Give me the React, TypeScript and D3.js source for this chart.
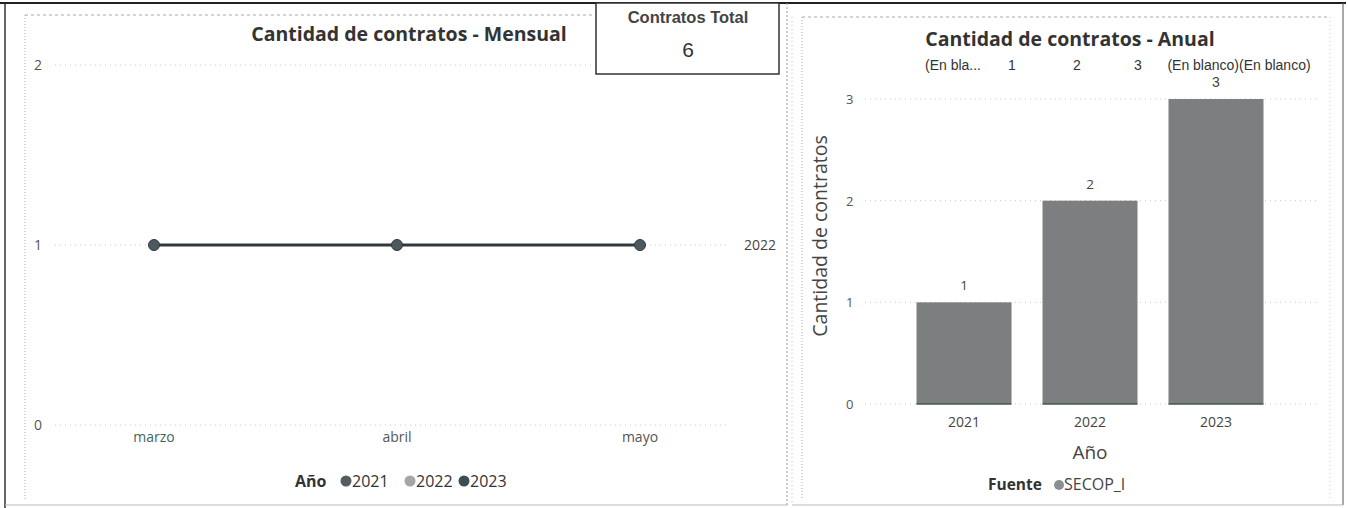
import React from 'react';
import * as d3 from 'd3';

const months = ['marzo', 'abril', 'mayo'];
const monthly2022 = [1, 1, 1];
const monthlyTicks = [0, 1, 2];
const legendYears = ['2021', '2022', '2023'];
const legendColors = ['#555b5e', '#a3a5a6', '#3c4d53'];
const years = ['2021', '2022', '2023'];
const annualCounts = [1, 2, 3];
const annualTicks = [0, 1, 2, 3];
const topLabels = ['(En bla...', '1', '2', '3', '(En blanco)(En blanco)'];
const totalContracts = 6;

const W = 1348;
const H = 508;
const SEG = "'Open Sans', 'DejaVu Sans', sans-serif";
const ARIAL = "'Liberation Sans', Arial, sans-serif";

export default function App() {
  // Left: monthly line chart
  const xL = d3.scalePoint<string>().domain(months).range([154, 640]);
  const yL = d3.scaleLinear().domain([0, 2]).range([425, 65]);
  const line = d3
    .line<number>()
    .x((_, i) => xL(months[i]) as number)
    .y((d) => yL(d));

  // Right: annual bars
  const xR = d3
    .scaleBand<string>()
    .domain(years)
    .range([900, 1280])
    .paddingInner(0.246)
    .paddingOuter(0.131);
  const yR = d3.scaleLinear().domain([0, 3]).range([404, 99]);

  const lastX = xL(months[months.length - 1]) as number;
  const lastY = yL(monthly2022[monthly2022.length - 1]);

  // legend layout
  const legX = [346, 410, 464];
  const topX = [953, 1012, 1077, 1138, 1239];

  return (
    <svg
      width={W}
      height={H}
      style={{ position: 'absolute', left: 0, top: 0, background: '#fff' }}
    >
      <rect x={0} y={0} width={W} height={H} fill="#fff" />
      {/* outer frame */}
      <line x1={0} y1={3} x2={1346} y2={3} stroke="#222" strokeWidth={2} />
      <line x1={5} y1={3} x2={5} y2={508} stroke="#333" strokeWidth={1.5} />
      <line x1={5} y1={505} x2={787} y2={505} stroke="#bbb" strokeWidth={1} />
      <line x1={787} y1={3} x2={787} y2={505} stroke="#999" strokeWidth={1} strokeDasharray="2 2" />
      <line x1={1343} y1={3} x2={1343} y2={505} stroke="#555" strokeWidth={1} />
      <line x1={792} y1={505} x2={1343} y2={505} stroke="#bbb" strokeWidth={1} />
      {/* inner dotted frames */}
      <line x1={25} y1={15} x2={25} y2={500} stroke="#aaa" strokeDasharray="1 2" />
      <line x1={25} y1={15} x2={594} y2={15} stroke="#aaa" strokeDasharray="3 3" />
      <line x1={802} y1={17} x2={802} y2={500} stroke="#aaa" strokeDasharray="1 2" />
      <line x1={792} y1={17} x2={792} y2={505} stroke="#bbb" strokeDasharray="1 3" />
      <line x1={802} y1={17} x2={1330} y2={17} stroke="#aaa" strokeDasharray="3 3" />
      <line x1={1330} y1={17} x2={1330} y2={500} stroke="#ccc" strokeDasharray="1 3" />

      {/* LEFT CHART */}
      <text x={409} y={41} textAnchor="middle" fontFamily={SEG} fontWeight={700} fontSize={19.5} fill="#333">
        Cantidad de contratos - Mensual
      </text>
      {monthlyTicks.map((t) => (
        <g key={t}>
          <line x1={55} x2={730} y1={yL(t)} y2={yL(t)} stroke="#c8c8c8" strokeDasharray="1 4" />
          <text x={34} y={yL(t) + 5} fontFamily={SEG} fontSize={14} fill="#555">
            {t}
          </text>
        </g>
      ))}
      <path d={line(monthly2022) || ''} fill="none" stroke="#2e3a3e" strokeWidth={3} />
      {monthly2022.map((v, i) => (
        <circle key={i} cx={xL(months[i]) as number} cy={yL(v)} r={5.5} fill="#4c5a60" stroke="#2e3a3e" strokeWidth={1} />
      ))}
      <text x={lastX + 104} y={lastY + 5} fontFamily={SEG} fontSize={14} fill="#444">
        {legendYears[1]}
      </text>
      {months.map((m) => (
        <text key={m} x={xL(m) as number} y={442} textAnchor="middle" fontFamily={SEG} fontSize={14} fill={m === 'marzo' ? '#3d6660' : '#555'}>
          {m}
        </text>
      ))}
      {/* legend */}
      <text x={295} y={487} fontFamily={SEG} fontWeight={700} fontSize={16} fill="#333">
        Año
      </text>
      {legendYears.map((yr, i) => (
        <g key={yr}>
          <circle cx={legX[i]} cy={481} r={5.5} fill={legendColors[i]} />
          <text x={legX[i] + 6} y={487} fontFamily={SEG} fontSize={16} fill="#333">
            {yr}
          </text>
        </g>
      ))}

      {/* CARD */}
      <rect x={596} y={3} width={183} height={71} fill="#fff" stroke="#333" strokeWidth={1.5} />
      <text x={688} y={23} textAnchor="middle" fontFamily={ARIAL} fontWeight={700} fontSize={16.5} fill="#444">
        Contratos Total
      </text>
      <text x={688} y={57} textAnchor="middle" fontFamily={ARIAL} fontSize={21} fill="#333">
        {totalContracts}
      </text>

      {/* RIGHT CHART */}
      <text x={1070} y={46} textAnchor="middle" fontFamily={SEG} fontWeight={700} fontSize={19.5} fill="#333">
        Cantidad de contratos - Anual
      </text>
      {topLabels.map((l, i) => (
        <text key={i} x={topX[i]} y={70} textAnchor="middle" fontFamily={ARIAL} fontSize={14} fill="#333">
          {l}
        </text>
      ))}
      {annualTicks.map((t) => (
        <g key={t}>
          <line x1={865} x2={1320} y1={yR(t)} y2={yR(t)} stroke="#c8c8c8" strokeDasharray="1 4" />
          <text x={846} y={yR(t) + 5} fontFamily={SEG} fontSize={13} fill="#555">
            {t}
          </text>
        </g>
      ))}
      {years.map((yr, i) => {
        const x = xR(yr) as number;
        const w = xR.bandwidth();
        const v = annualCounts[i];
        return (
          <g key={yr}>
            <rect x={x} y={yR(v)} width={w} height={yR(0) - yR(v)} fill="#7c7e7f" />
            <line x1={x} x2={x + w} y1={yR(0)} y2={yR(0)} stroke="#3d5c52" strokeWidth={1.5} />
            <text x={x + w / 2} y={yR(v) - 12} textAnchor="middle" fontFamily={v === 3 ? ARIAL : SEG} fontSize={v === 3 ? 14 : 13.5} fill="#444">
              {v}
            </text>
            <text x={x + w / 2} y={427} textAnchor="middle" fontFamily={SEG} fontSize={14} fill="#444">
              {yr}
            </text>
          </g>
        );
      })}
      <text x={1090} y={459} textAnchor="middle" fontFamily={SEG} fontSize={19} fill="#444">
        Año
      </text>
      <text
        transform={`translate(827,236) rotate(-90)`}
        textAnchor="middle"
        fontFamily={SEG}
        fontSize={19.5}
        fill="#444"
      >
        Cantidad de contratos
      </text>
      <text x={988} y={490} fontFamily={SEG} fontWeight={700} fontSize={15.5} fill="#333">
        Fuente
      </text>
      <circle cx={1059} cy={485} r={5} fill="#8c8f91" />
      <text x={1064} y={490} fontFamily={SEG} fontSize={16} fill="#444">
        SECOP_I
      </text>
    </svg>
  );
}
